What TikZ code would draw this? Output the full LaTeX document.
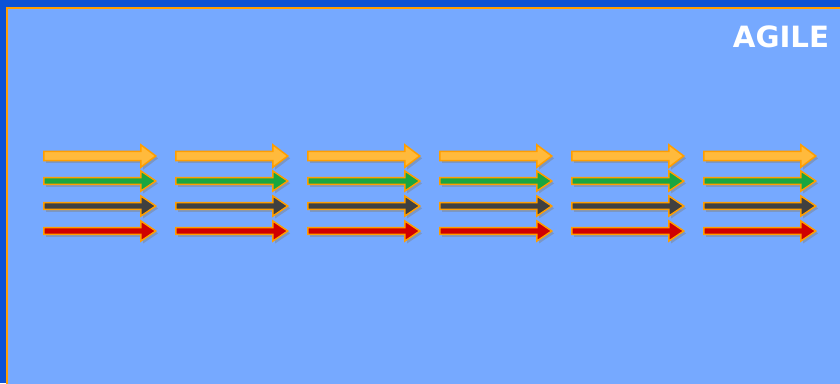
\documentclass[tikz,border=0pt]{standalone}
\usepackage{fontspec}
\setsansfont{DejaVu Sans}
\usetikzlibrary{shapes.arrows,shadows,positioning}
\definecolor{frame}{HTML}{0A52D6}
\definecolor{sky}{HTML}{76A9FF}
\definecolor{rim}{HTML}{FF9E00}
\definecolor{amber}{HTML}{FFBA3C}
\definecolor{leaf}{HTML}{1AA640}
\definecolor{coal}{HTML}{404040}
\definecolor{blood}{HTML}{D00000}

\begin{document}
\begin{tikzpicture}[x=0.03cm, y=-0.03cm,
  sprint/.style={single arrow, draw=rim, line width=0.045cm, anchor=west,
    inner xsep=0pt, text height=0pt, text depth=0pt, text width=0pt,
    minimum height=3.36cm, single arrow head indent=0pt,
    drop shadow={shadow xshift=0.07cm, shadow yshift=-0.07cm, opacity=0.45}},
  wide/.style={sprint, fill=amber, inner ysep=0.115cm,
    single arrow head extend=0.2cm, single arrow tip angle=74},
  slim/.style={sprint, inner ysep=0.08cm,
    single arrow head extend=0.2cm, single arrow tip angle=68}]
\useasboundingbox (0,0) rectangle (840,383);
\clip (0,0) rectangle (840,383);
% window frame
\fill[frame] (0,0) rectangle (840,383);
\draw[rim, fill=sky, line width=0.07cm] (7,8) rectangle (850,395);
\node[text=white, font=\sffamily\bfseries\fontsize{25}{30}\selectfont] (title) at (781,37) {AGILE};
% iterations
\foreach \col in {0,...,5} {
  \node[wide] (run\col-a) at ({43+132*\col},156) {};
  \node[slim, fill=leaf] (run\col-b) at ({43+132*\col},181) {};
  \node[slim, fill=coal] (run\col-c) at ({43+132*\col},206) {};
  \node[slim, fill=blood] (run\col-d) at ({43+132*\col},231) {};
}
\end{tikzpicture}
\end{document}
